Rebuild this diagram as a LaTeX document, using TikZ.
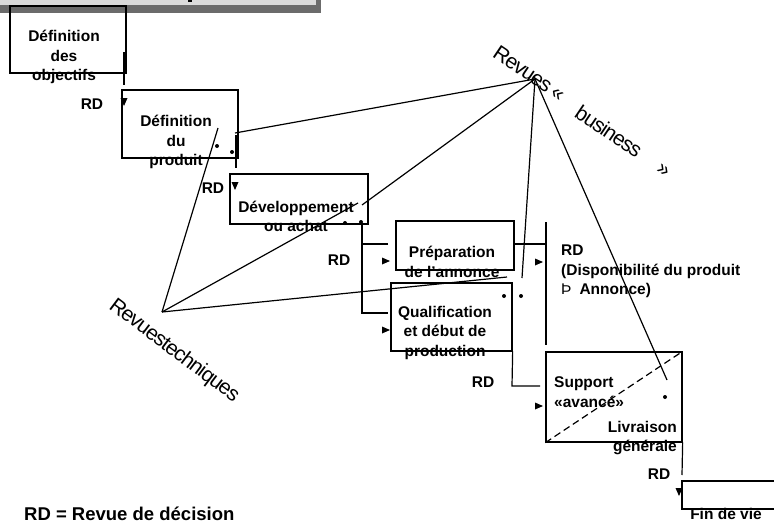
\documentclass[tikz,border=0pt]{standalone}
\usepackage{fontspec}
\setmainfont{Liberation Sans}
\usetikzlibrary{positioning,calc}

\definecolor{bannerlight}{HTML}{DADADA}
\definecolor{bannerdark}{HTML}{6B6B6B}

\tikzset{
  phase/.style={draw, line width=1.3pt, inner sep=0pt},
  lbl/.style={font=\bfseries\fontsize{15.5}{19.5}\selectfont, align=center, inner sep=0pt},
  rd/.style={font=\bfseries\fontsize{15.5}{19}\selectfont, inner sep=0pt},
  revue/.style={font=\fontsize{21}{21}\selectfont\addfontfeatures{LetterSpace=-5}, inner sep=0pt},
  link/.style={line width=1.2pt},
  jalon/.style={circle, fill, inner sep=0pt, minimum size=4pt},
  tipd/.pic={\fill (-3.5,-4) -- (3.5,-4) -- (0,4) -- cycle;},
  tipr/.pic={\fill (-4,-3.5) -- (-4,3.5) -- (4,0) -- cycle;}
}

\begin{document}
\begin{tikzpicture}[x=1pt, y=-1pt]
    \useasboundingbox (0,0) rectangle (774,522);

    % Banner
    \fill[bannerdark] (0,0) rectangle (321,13);
    \fill[bannerlight] (0,0) rectangle (316,5);
    \fill (188,0) rectangle (192,2);

    % Phases
    \node[phase, minimum width=116pt, minimum height=67pt] (obj) at (68,39.5) {};
    \node[phase, minimum width=116pt, minimum height=68pt] (prod) at (180,124) {};
    \node[phase, minimum width=138pt, minimum height=50pt] (dev) at (299,199) {};
    \node[phase, minimum width=118pt, minimum height=49pt] (prep) at (455,245.5) {};
    \node[phase, minimum width=121pt, minimum height=68pt] (qual) at (451.5,317) {};
    \node[phase, minimum width=136pt, minimum height=90pt] (supp) at (614,397) {};
    \draw[line width=1.3pt] (774,481) -- (682,481) -- (682,509) -- (774,509);
    \coordinate (fin) at (682,481);
    \draw[dashed, line width=1.2pt, dash pattern=on 7pt off 4pt] (supp.south west) -- (supp.north east);

    \node[lbl] (objT) at (64,57) {Définition\\des\\objectifs};
    \node[lbl] (prodT) at (176,142) {Définition\\du\\produit};
    \node[lbl] (devT) at (296,216.5) {Développement\\ou achat};
    \node[lbl] (prepT) at (452,262) {Préparation\\de l’annonce};
    \node[lbl] (qualT) at (445,332.5) {Qualification\\et début de\\production};
    \node[lbl, align=left, anchor=west] (suppT) at (554,392) {Support\\«avancé»};
    \node[lbl, align=right, anchor=east] (livrT) at (677,438) {Livraison\\générale};
    \node[lbl] (finT) at (726,514) {Fin de vie};

    % Decision reviews
    \node[rd] (rd1) at (92,104) {RD};
    \node[rd] (rd2) at (213,188) {RD};
    \node[rd] (rd3) at (339,260) {RD};
    \node[rd] (rd5) at (483,382) {RD};
    \node[rd] (rd6) at (659,474) {RD};
    \node[lbl, align=left, anchor=west] (dispo) at (561,271.5)
        {RD\\(Disponibilité du produit\\{\mdseries Þ}\hspace{8pt}Annonce)};
    \node[font=\bfseries\fontsize{18.5}{20}\selectfont, inner sep=0pt, anchor=west] (legend) at (24,514)
        {RD = Revue de décision};

    % Flow
    \draw[link] (124,52) -- (124,85);
    \pic at (124,102) {tipd};
    \draw[link] (236,135) -- (236,168);
    \pic at (235,186) {tipd};
    \draw[link] (388,244) -- (362,244) -- (362,313) -- (388,313);
    \draw[link] (362,224) -- (362,244);
    \pic at (386,261) {tipr};
    \pic at (386,330) {tipr};
    \draw[link] (prep.east |- 0,244) -- (545,244);
    \draw[link] (546,222) -- (546,345);
    \pic at (539,262) {tipr};
    \draw[link] (qual.south east) -- (512,386) -- (540,386);
    \pic at (539,406) {tipr};
    \draw[link] (supp.south east) -- (682,475);
    \pic at (679,492) {tipd};

    % Milestones
    \node[jalon] (m1) at (217,146) {};
    \node[jalon] (m2) at (232,152) {};
    \node[jalon] (m3) at (345,223) {};
    \node[jalon] (m4) at (361,222) {};
    \node[jalon] (m5) at (504,296) {};
    \node[jalon] (m6) at (521,296) {};
    \node[jalon] (m7) at (665,397) {};

    % Revues business
    \coordinate (bus) at (535,79);
    \node[revue, rotate=-34] (busA) at (523,69) {Revues};
    \node[revue, rotate=-34] (busB) at (557,95) {«};
    \node[revue, rotate=-34] (busC) at (609,131) {business};
    \node[revue, rotate=-34] (busD) at (663,171) {»};
    \draw[link] (bus) -- (235,133);
    \draw[link] (bus) -- (362,205);
    \draw[link] (bus) -- (522,278);
    \draw[link] (bus) -- (667,380);

    % Revues techniques
    \coordinate (tech) at (162,312);
    \node[revue, rotate=-37] (techT) at (174,351) {Revuestechniques};
    \draw[link] (tech) -- (218,128);
    \draw[link] (tech) -- (358,203);
    \draw[link] (tech) -- (507,277);
\end{tikzpicture}
\end{document}
